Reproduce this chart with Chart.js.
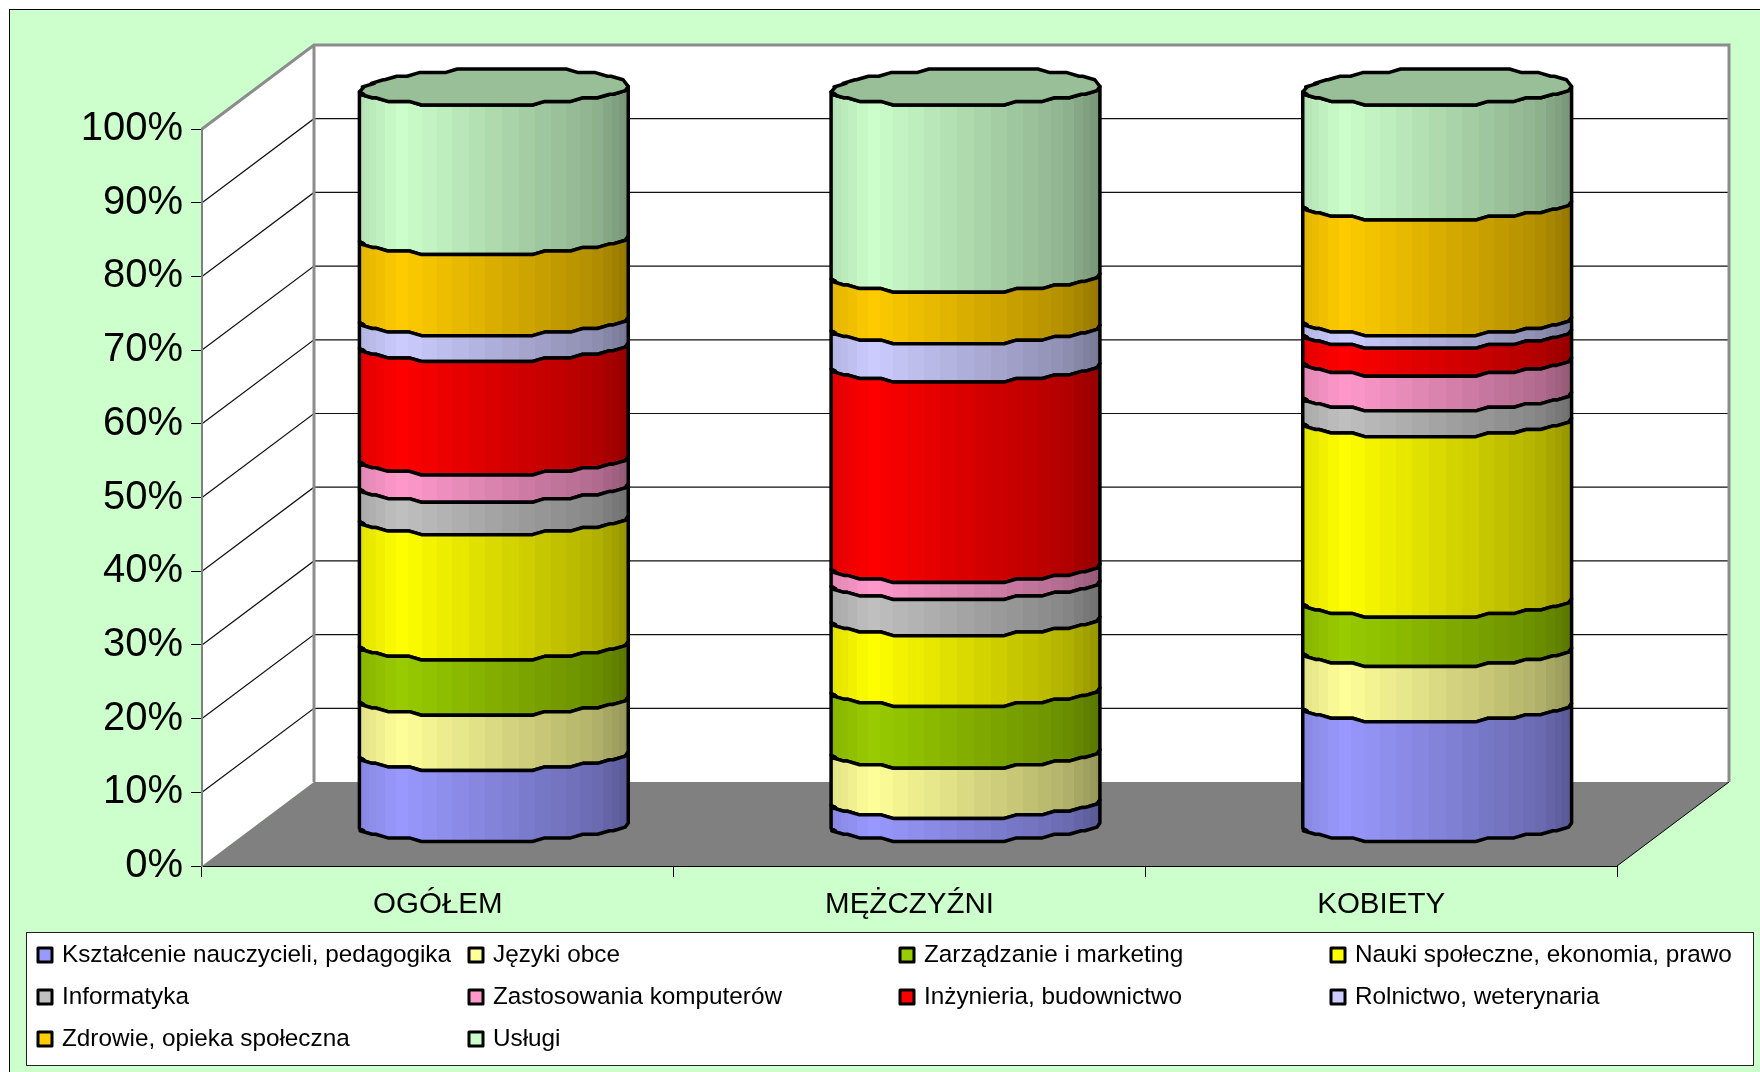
<!DOCTYPE html>
<html>
<head>
<meta charset="utf-8">
<style>html,body{margin:0;padding:0;background:#fff}canvas{display:block}</style>
<script src="https://cdn.jsdelivr.net/npm/chart.js@4"></script>
</head>
<body>
<canvas id="chart" width="1760" height="1072"></canvas>
<script>
const categories = ['OGÓŁEM', 'MĘŻCZYŹNI', 'KOBIETY'];
const seriesNames = [
  'Kształcenie nauczycieli, pedagogika', 'Języki obce', 'Zarządzanie i marketing',
  'Nauki społeczne, ekonomia, prawo', 'Informatyka', 'Zastosowania komputerów',
  'Inżynieria, budownictwo', 'Rolnictwo, weterynaria', 'Zdrowie, opieka społeczna', 'Usługi'
];
const seriesColors = ['#9999FF', '#FFFF99', '#99CC00', '#FFFF00', '#C0C0C0', '#FF99CC', '#FF0000', '#CCCCFF', '#FFCC00', '#CCFFCC'];

const ksztalcenie = [9.7, 3.2, 16.3];
const jezyki = [7.5, 6.8, 7.5];
const zarzadzanie = [7.5, 8.4, 6.7];
const nauki = [17.0, 9.6, 24.5];
const informatyka = [4.4, 4.9, 3.5];
const zastosowania = [3.7, 2.3, 4.7];
const inzynieria = [15.4, 27.2, 3.8];
const rolnictwo = [3.5, 5.2, 1.7];
const zdrowie = [11.0, 7.0, 15.7];
const uslugi = [20.3, 25.4, 15.6];
const seriesValues = [ksztalcenie, jezyki, zarzadzanie, nauki, informatyka, zastosowania, inzynieria, rolnictwo, zdrowie, uslugi];

const DEPTH_X = 112, DEPTH_Y = 84;   // oblique offset of the back wall
const RY = 18;                        // vertical radius of the cylinder ends
const TILT = 0.15, STEP = 0.2;        // skew and stepped outline of the ends
const BANDS = 25;                     // shading facets across the front face

function shade(hex, f) {
  const n = parseInt(hex.slice(1), 16);
  const c = s => Math.round(((n >> s) & 255) * f);
  return `rgb(${c(16)},${c(8)},${c(0)})`;
}

// Stepped half outline of a cylinder end, as [u, v] in unit radii.
function endOutline(side) {
  const level = u => side * Math.sqrt(Math.max(0, 1 - u * u)) - TILT * u + 0.12 * Math.pow(u, 8);
  const pts = [[-1, level(-1)]];
  const samples = 120, w = 0.045;
  let prev = null;
  for (let i = 2; i < samples - 1; i++) {
    const u = -1 + 2 * i / samples;
    const q = Math.round(level(u) / STEP) * STEP;
    if (prev === null) { pts.push([u, q]); }
    else if (q !== prev) { pts.push([u - w, prev], [u + w, q]); }
    prev = q;
  }
  pts.push([1, level(1)]);
  return pts;
}
const frontEdge = endOutline(1);
const backEdge = endOutline(-1);

// Brightness across the face: peak left of centre, falling off to the right rim.
function facetBrightness(u) {
  if (u < -0.7) return 1 - 0.4 * (-0.7 - u);
  if (u < 0.75) return 1 - 0.3 * (u + 0.7) / 1.45;
  return 0.7 - 0.12 * (u - 0.75) / 0.25;
}

function facetGradient(ctx, cx, rx, color) {
  const g = ctx.createLinearGradient(cx - rx, 0, cx + rx, 0);
  for (let k = 0; k < BANDS; k++) {
    const u0 = Math.cos(Math.PI - Math.PI * k / BANDS);
    const u1 = Math.cos(Math.PI - Math.PI * (k + 1) / BANDS);
    const col = shade(color, facetBrightness((u0 + u1) / 2));
    g.addColorStop((u0 + 1) / 2, col);
    g.addColorStop((u1 + 1) / 2, col);
  }
  return g;
}

function drawSegment(ctx, bar, color, isTop) {
  const cx = bar.x + DEPTH_X / 2, rx = bar.width / 2;
  const yTop = bar.y - DEPTH_Y / 2, yBase = bar.base - DEPTH_Y / 2;
  const X = u => cx + u * rx;
  ctx.save();
  ctx.lineWidth = 3.5;
  ctx.lineJoin = 'round';
  ctx.strokeStyle = '#000';
  ctx.beginPath();
  frontEdge.forEach(([u, v], i) => i ? ctx.lineTo(X(u), yTop + v * RY) : ctx.moveTo(X(u), yTop + v * RY));
  for (let i = frontEdge.length - 1; i >= 0; i--) ctx.lineTo(X(frontEdge[i][0]), yBase + frontEdge[i][1] * RY);
  ctx.closePath();
  ctx.fillStyle = facetGradient(ctx, cx, rx, color);
  ctx.fill();
  ctx.stroke();
  if (isTop) {
    ctx.beginPath();
    frontEdge.forEach(([u, v], i) => i ? ctx.lineTo(X(u), yTop + v * RY) : ctx.moveTo(X(u), yTop + v * RY));
    for (let i = backEdge.length - 1; i >= 0; i--) ctx.lineTo(X(backEdge[i][0]), yTop + backEdge[i][1] * RY);
    ctx.closePath();
    ctx.fillStyle = shade(color, 0.75);
    ctx.fill();
    ctx.stroke();
  }
  ctx.restore();
}

class CylinderController extends Chart.BarController {
  draw() {
    const ctx = this.chart.ctx;
    const color = this.getDataset().backgroundColor;
    const isTop = this.index === this.chart.data.datasets.length - 1;
    this._cachedMeta.data.forEach(bar => drawSegment(ctx, bar, color, isTop));
  }
}
CylinderController.id = 'cylinder';
CylinderController.defaults = Chart.BarController.defaults;
CylinderController.overrides = Chart.BarController.overrides;
Chart.register(CylinderController);

// Panel background, floor and the two walls with their gridlines.
const stagePlugin = {
  id: 'stage',
  beforeDraw(chart) {
    const { ctx, chartArea: a, scales } = chart;
    const bx = a.left + DEPTH_X, br = a.right + DEPTH_X, bt = a.top - DEPTH_Y, bb = a.bottom - DEPTH_Y;
    ctx.save();
    ctx.fillStyle = '#CCFFCC';
    ctx.fillRect(9, 9, 1760, 1072);
    ctx.fillStyle = '#000';
    ctx.fillRect(9, 9, 1760, 1);
    ctx.fillRect(9, 9, 1, 1072);

    ctx.fillStyle = '#fff';
    ctx.beginPath();
    ctx.moveTo(a.left, a.top); ctx.lineTo(bx, bt); ctx.lineTo(br, bt); ctx.lineTo(br, bb);
    ctx.lineTo(bx, bb); ctx.lineTo(a.left, a.bottom); ctx.closePath();
    ctx.fill();

    ctx.strokeStyle = '#111';
    ctx.lineWidth = 1.2;
    scales.y.ticks.forEach(t => {
      if (t.value === 0 || t.value === 100) return;
      const y = scales.y.getPixelForValue(t.value);
      ctx.beginPath();
      ctx.moveTo(a.left, y); ctx.lineTo(bx, y - DEPTH_Y); ctx.lineTo(br, y - DEPTH_Y);
      ctx.stroke();
    });

    ctx.fillStyle = '#808080';
    ctx.beginPath();
    ctx.moveTo(a.left, a.bottom); ctx.lineTo(bx, bb); ctx.lineTo(br, bb); ctx.lineTo(a.right, a.bottom);
    ctx.closePath();
    ctx.fill();

    ctx.strokeStyle = '#000';
    ctx.lineWidth = 1;
    ctx.beginPath();
    ctx.moveTo(a.right, a.bottom); ctx.lineTo(br, bb);
    ctx.stroke();

    ctx.strokeStyle = '#8c8c8c';
    ctx.lineWidth = 3;
    ctx.beginPath();
    ctx.moveTo(a.left, a.top); ctx.lineTo(bx, bt); ctx.lineTo(br, bt); ctx.lineTo(br, bb);
    ctx.moveTo(bx, bt); ctx.lineTo(bx, bb);
    ctx.stroke();
    ctx.restore();
  }
};

// Four-column legend box below the plot.
const legendBoxPlugin = {
  id: 'legendBox',
  afterDraw(chart) {
    const ctx = chart.ctx;
    const boxX = 26, boxY = 932, boxW = 1727, boxH = 133;
    const markX = [38, 469, 900, 1331], rowY = [955, 997, 1039];
    ctx.save();
    ctx.fillStyle = '#fff';
    ctx.strokeStyle = '#222';
    ctx.lineWidth = 1;
    ctx.fillRect(boxX, boxY, boxW, boxH);
    ctx.strokeRect(boxX + 0.5, boxY + 0.5, boxW, boxH);
    ctx.font = '24.3px "Liberation Sans"';
    ctx.textBaseline = 'middle';
    chart.data.datasets.forEach((ds, i) => {
      const x = markX[i % 4], y = rowY[Math.floor(i / 4)];
      ctx.fillStyle = ds.backgroundColor;
      ctx.strokeStyle = '#000';
      ctx.lineWidth = 3;
      ctx.lineJoin = 'round';
      ctx.fillRect(x, y - 7, 14, 14);
      ctx.strokeRect(x, y - 7, 14, 14);
      ctx.fillStyle = '#000';
      ctx.fillText(ds.label, x + 24, y);
    });
    ctx.restore();
  }
};

new Chart(document.getElementById('chart'), {
  type: 'cylinder',
  data: {
    labels: categories,
    datasets: seriesNames.map((name, i) => ({
      label: name,
      data: seriesValues[i],
      backgroundColor: seriesColors[i],
      clip: false,
      categoryPercentage: 1,
      barPercentage: 0.57
    }))
  },
  plugins: [stagePlugin, legendBoxPlugin],
  options: {
    responsive: false,
    animation: false,
    layout: { padding: { top: 129, right: 143, left: 0, bottom: 0 } },
    plugins: { legend: { display: false }, tooltip: { enabled: false } },
    scales: {
      x: {
        stacked: true,
        afterFit: s => { s.height = 206; },
        grid: { offset: true, drawOnChartArea: false, drawTicks: true, tickLength: 11, color: '#000' },
        border: { color: '#000', width: 1 },
        ticks: { color: '#000', font: { family: '"Liberation Sans"', size: 29.5 }, maxRotation: 0, autoSkip: false, padding: 10 }
      },
      y: {
        stacked: true,
        min: 0,
        max: 100,
        afterFit: s => { s.width = 202; },
        grid: { drawOnChartArea: false, drawTicks: true, tickLength: 11, color: '#000' },
        border: { color: '#808080', width: 2 },
        ticks: { color: '#000', stepSize: 10, font: { family: '"Liberation Sans"', size: 40 }, padding: 8, callback: v => v + '%' }
      }
    }
  }
});
</script>
</body>
</html>
